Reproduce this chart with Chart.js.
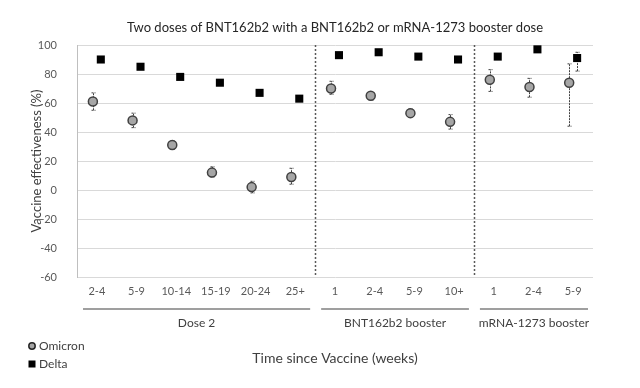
<!DOCTYPE html>
<html>
<head>
<meta charset="utf-8">
<script src="https://cdn.jsdelivr.net/npm/chart.js@4/dist/chart.umd.min.js"></script>
<style>
  html, body { margin: 0; padding: 0; background: #fff; }
  #wrap { width: 640px; height: 388px; }
</style>
</head>
<body>
<div id="wrap"><canvas id="veChart" width="640" height="388"></canvas></div>
<script>
const categories = ['2-4', '5-9', '10-14', '15-19', '20-24', '25+', '1', '2-4', '5-9', '10+', '1', '2-4', '5-9'];
const omicron     = [61, 48, 31, 12, 2, 9, 70, 65, 53, 47, 76, 71, 74];
const omicronLow  = [55, 43, 28, 9, -2, 4, 66, 62, 51, 42, 68, 64, 44];
const omicronHigh = [67, 53, 34, 16, 6, 15, 75, 67, 56, 52, 83, 77, 87];
const delta       = [90, 85, 78, 74, 67, 63, 93, 95, 92, 90, 92, 97, 91];
const deltaLow    = [89, 84, 77, 73, 66, 62, 92, 94, 91, 89, 91, 96, 82];
const deltaHigh   = [91, 86, 79, 75, 68, 64, 94, 96, 93, 91, 93, 98, 95];
const groups = ['Dose 2', 'BNT162b2 booster', 'mRNA-1273 booster'];
const groupStart = [0, 6, 10];
const groupEnd = [5, 9, 12];
const yTicks = [-60, -40, -20, 0, 20, 40, 60, 80, 100];
const chartTitle = 'Two doses of BNT162b2 with a BNT162b2 or mRNA-1273 booster dose';

const FONT = 'Lato, "Liberation Sans", sans-serif';
const shift = 0.1; // omicron left of the category, delta right

const omicronPts = omicron.map((v, i) => ({ x: i - shift, y: v }));
const deltaPts = delta.map((v, i) => ({ x: i + shift, y: v }));

function seg(ctx, x1, y1, x2, y2) {
    ctx.beginPath();
    ctx.moveTo(x1, y1);
    ctx.lineTo(x2, y2);
    ctx.stroke();
}

const overlay = {
    id: 'overlay',
    beforeDatasetsDraw(chart) {
        const { ctx, chartArea: a, scales: { x, y } } = chart;
        ctx.save();
        // dotted separators between groups
        ctx.strokeStyle = '#595959';
        ctx.lineWidth = 1.5;
        ctx.setLineDash([2, 2]);
        groupEnd.slice(0, -1).forEach(e => {
            const px = Math.round(x.getPixelForValue(e + 0.5)) + 0.5;
            seg(ctx, px, a.top, px, a.bottom);
        });
        // error bars
        ctx.strokeStyle = '#404040';
        ctx.lineWidth = 1;
        ctx.setLineDash([2, 1]);
        const bars = (lo, hi, off) => {
            lo.forEach((l, i) => {
                const px = Math.round(x.getPixelForValue(i + off)) + 0.5;
                const y1 = y.getPixelForValue(l), y2 = y.getPixelForValue(hi[i]);
                seg(ctx, px, y1, px, y2);
                seg(ctx, px - 2, y1, px + 2, y1);
                seg(ctx, px - 2, y2, px + 2, y2);
            });
        };
        bars(omicronLow, omicronHigh, -shift);
        bars(deltaLow, deltaHigh, shift);
        ctx.restore();
    },
    afterDraw(chart) {
        const { ctx, chartArea: a, scales: { x } } = chart;
        const mid = (a.left + a.right) / 2;
        ctx.save();
        ctx.textAlign = 'center';
        ctx.textBaseline = 'middle';
        // title
        ctx.fillStyle = '#262626';
        ctx.font = '13px ' + FONT;
        ctx.fillText(chartTitle, mid, 28);
        // group lines and labels under the ticks
        ctx.strokeStyle = '#7f7f7f';
        ctx.lineWidth = 1.5;
        ctx.fillStyle = '#404040';
        ctx.font = '12px ' + FONT;
        groups.forEach((g, k) => {
            const x1 = x.getPixelForValue(groupStart[k] - 0.5) + 6;
            const x2 = x.getPixelForValue(groupEnd[k] + 0.5) - 5;
            seg(ctx, x1, 309, x2, 309);
            ctx.fillText(g, (x1 + x2) / 2, 323);
        });
        // axis title
        ctx.font = '14px ' + FONT;
        ctx.fillText('Time since Vaccine (weeks)', mid, 358);
        // legend
        ctx.textAlign = 'left';
        ctx.font = '12px ' + FONT;
        ctx.fillText('Omicron', 39, 346);
        ctx.fillText('Delta', 39, 364);
        ctx.fillStyle = '#a6a6a6';
        ctx.strokeStyle = '#262626';
        ctx.lineWidth = 1.5;
        ctx.beginPath();
        ctx.arc(32, 346, 3.2, 0, Math.PI * 2);
        ctx.fill();
        ctx.stroke();
        ctx.fillStyle = '#000';
        ctx.fillRect(28.5, 360.5, 7, 7);
        ctx.restore();
    }
};

new Chart(document.getElementById('veChart'), {
    type: 'scatter',
    data: {
        datasets: [{
            label: 'Omicron',
            data: omicronPts,
            pointStyle: 'circle',
            pointRadius: 4.5,
            backgroundColor: '#a6a6a6',
            borderColor: '#404040',
            borderWidth: 1.5
        }, {
            label: 'Delta',
            data: deltaPts,
            pointStyle: 'rect',
            pointRadius: 5.7,
            backgroundColor: '#000',
            borderColor: '#000',
            borderWidth: 0
        }]
    },
    options: {
        responsive: false,
        animation: false,
        layout: { padding: { left: 0, right: 47, top: 45, bottom: 0 } },
        plugins: {
            legend: { display: false },
            tooltip: { enabled: false },
            title: { display: false }
        },
        scales: {
            x: {
                type: 'linear',
                min: -0.5,
                max: categories.length - 0.5,
                grid: { display: false, drawTicks: false },
                border: { display: false },
                afterBuildTicks: s => { s.ticks = categories.map((c, i) => ({ value: i })); },
                afterFit: s => { s.height = 111; },
                ticks: {
                    autoSkip: false,
                    maxRotation: 0,
                    padding: 8,
                    color: '#595959',
                    font: { family: FONT, size: 11 },
                    callback: v => categories[v]
                }
            },
            y: {
                min: -60,
                max: 100,
                afterBuildTicks: s => { s.ticks = yTicks.map(v => ({ value: v })); },
                afterFit: s => { s.width = 77; },
                grid: { color: '#d9d9d9', lineWidth: 1, drawTicks: false },
                border: { color: '#bfbfbf' },
                ticks: {
                    padding: 20,
                    color: '#595959',
                    font: { family: FONT, size: 11 }
                },
                title: {
                    display: true,
                    text: 'Vaccine effectiveness (%)',
                    color: '#404040',
                    font: { family: FONT, size: 13 },
                    padding: { top: 29, bottom: 0 }
                }
            }
        }
    },
    plugins: [overlay]
});
</script>
</body>
</html>
